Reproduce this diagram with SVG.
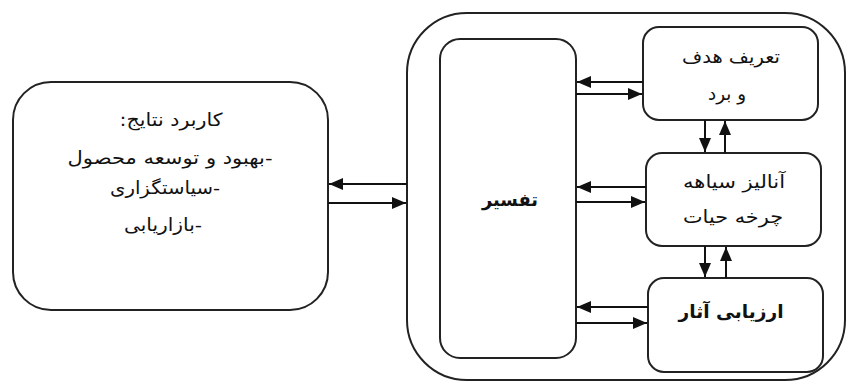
<svg xmlns="http://www.w3.org/2000/svg" width="851" height="385" viewBox="0 0 851 385">
<style>
.box{fill:#fff;stroke:#222;stroke-width:2}
.ln{stroke:#111;stroke-width:2;fill:none;marker-end:url(#ah)}
.t{font-family:"DejaVu Sans",sans-serif;font-size:18px;fill:#111;text-anchor:middle}
.b{font-weight:bold}
</style>
<defs>
<marker id="ah" viewBox="0 0 14 12" refX="14" refY="6" markerWidth="14" markerHeight="12" markerUnits="userSpaceOnUse" orient="auto">
<path d="M0,0 L14,6 L0,12 Z" fill="#111"/>
</marker>
</defs>
<rect width="851" height="385" fill="#fff"/>
<g id="results">
<rect class="box" x="13" y="82" width="315" height="228" rx="38"/>
<text class="t" x="171" y="126" textLength="103" lengthAdjust="spacingAndGlyphs">&#x200F;کاربرد نتایج:&#x200F;</text>
<text class="t" x="170" y="164" textLength="205" lengthAdjust="spacingAndGlyphs">&#x200F;-بهبود و توسعه محصول&#x200F;</text>
<text class="t" x="165" y="194" textLength="110" lengthAdjust="spacingAndGlyphs">&#x200F;-سیاستگزاری&#x200F;</text>
<text class="t" x="163" y="231" textLength="78" lengthAdjust="spacingAndGlyphs">&#x200F;-بازاریابی&#x200F;</text>
</g>
<g id="outer">
<rect class="box" x="407" y="13" width="438" height="367" rx="60"/>
</g>
<g id="tafsir">
<rect class="box" x="440" y="39" width="136" height="319" rx="20"/>
<text class="t b" x="510" y="206" textLength="56" lengthAdjust="spacingAndGlyphs">تفسیر</text>
</g>
<g id="goal">
<rect class="box" x="643" y="27" width="175" height="93" rx="16"/>
<text class="t" x="731" y="63" textLength="98" lengthAdjust="spacingAndGlyphs">تعریف هدف</text>
<text class="t" x="727" y="100" textLength="38" lengthAdjust="spacingAndGlyphs">و برد</text>
</g>
<g id="inventory">
<rect class="box" x="646" y="153" width="175" height="93" rx="16"/>
<text class="t" x="734" y="188" textLength="102" lengthAdjust="spacingAndGlyphs">آنالیز سیاهه</text>
<text class="t" x="733" y="223" textLength="100" lengthAdjust="spacingAndGlyphs">چرخه حیات</text>
</g>
<g id="impact">
<rect class="box" x="648" y="278" width="175" height="94" rx="16"/>
<text class="t b" x="731" y="318" textLength="105" lengthAdjust="spacingAndGlyphs">ارزیابی آثار</text>
</g>
<g id="connectors">
<line class="ln" x1="407" y1="184" x2="329" y2="184"/>
<line class="ln" x1="328" y1="203" x2="406" y2="203"/>
<line class="ln" x1="643" y1="82" x2="577" y2="82"/>
<line class="ln" x1="576" y1="94" x2="642" y2="94"/>
<line class="ln" x1="646" y1="187" x2="577" y2="187"/>
<line class="ln" x1="576" y1="202" x2="645" y2="202"/>
<line class="ln" x1="648" y1="307" x2="577" y2="307"/>
<line class="ln" x1="576" y1="323" x2="647" y2="323"/>
<line class="ln" x1="705" y1="120" x2="705" y2="152"/>
<line class="ln" x1="725" y1="153" x2="725" y2="121"/>
<line class="ln" x1="705" y1="246" x2="705" y2="277"/>
<line class="ln" x1="726" y1="278" x2="726" y2="247"/>
</g>
</svg>
